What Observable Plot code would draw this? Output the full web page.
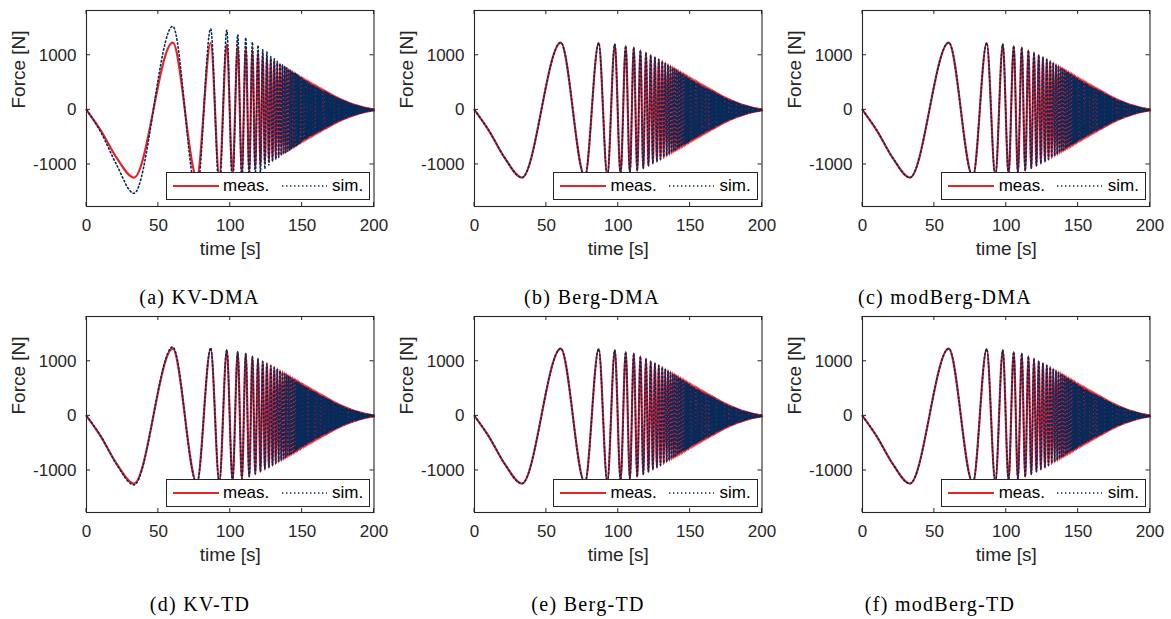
<!DOCTYPE html>
<html>
<head>
<meta charset="utf-8">
<script src="https://cdn.jsdelivr.net/npm/d3@7"></script>
<script src="https://cdn.jsdelivr.net/npm/@observablehq/plot@0.6"></script>
<style>
  html, body { margin: 0; padding: 0; background: #fff; }
  body { width: 1171px; height: 619px; position: relative; overflow: hidden;
         font-family: "Liberation Sans", Arial, sans-serif; color: #262626; }
  .panel { position: absolute; }
  .panel svg { overflow: visible; }
  .legend { position: absolute; box-sizing: border-box; background: #fff;
            border: 1.2px solid #262626; width: 204.5px; height: 28px; }
  .legend .lab { position: absolute; top: 50%; transform: translateY(-52%);
                 font-size: 17px; line-height: 1; color: #000; white-space: nowrap; }
  .legend svg { position: absolute; top: 0; }
  .caption { position: absolute; transform: translate(-50%, -50%);
             font-family: "Liberation Serif", "DejaVu Serif", serif; font-size: 20px;
             letter-spacing: 1.3px; color: #000; white-space: nowrap; }
</style>
</head>
<body>
<script>
// ---------------- data ----------------
const panelCaptions = ["(a) KV-DMA", "(b) Berg-DMA", "(c) modBerg-DMA",
                       "(d) KV-TD", "(e) Berg-TD", "(f) modBerg-TD"];
const seriesNames = ["meas.", "sim."];
const xTicks = [0, 50, 100, 150, 200];
const yTicks = [-1000, 0, 1000];

// first, slowly growing part before the first trough: time [s] and force [N]
const startTime = [0, 10, 21];
const startMeas = [0, -380, -880];
const startSimKVDMA = [0, -410, -1010];
const startSimKVTD = [0, -370, -890];
const startSimBerg = [0, -378, -878];

// times [s] of the successive extrema (trough, peak, trough, ...)
const extremaTime = [
  33.0, 60.0, 76.8, 86.4, 92.4, 97.6, 101.6, 105.2, 108.1, 110.8,
  113.2, 115.4, 117.4, 119.3, 121.0, 122.6, 124.1, 125.5, 126.9, 128.2,
  129.4, 130.6,
  131.7, 132.7, 133.7, 134.6, 135.5, 136.3, 137.1, 137.9, 138.6, 139.3,
  140.0, 140.7, 141.4, 142.0, 142.6, 143.2, 143.8, 144.4, 144.9, 145.4,
  145.9, 146.4, 146.9, 147.4, 147.9, 148.4, 148.9, 149.4, 149.9, 150.4,
  150.8, 151.2, 151.6, 152.0, 152.4, 152.8, 153.2, 153.6, 154.0,
  154.4, 154.8, 155.2, 155.6, 156.0, 156.4, 156.8, 157.2, 157.6, 158.0,
  158.4, 158.8, 159.2, 159.6, 160.0, 160.4, 160.8, 161.2, 161.6, 162.0,
  162.4, 162.8, 163.2, 163.6, 164.0, 164.4, 164.8, 165.2, 165.6, 166.0,
  166.3, 166.6, 166.9, 167.2, 167.5, 167.8, 168.1, 168.4, 168.7, 169.0,
  169.3, 169.6, 169.9, 170.2, 170.5, 170.8, 171.1, 171.4, 171.7, 172.0,
  172.3, 172.6, 172.9, 173.2, 173.5, 173.8, 174.1, 174.4, 174.7, 175.0,
  175.3, 175.6, 175.9, 176.2, 176.5, 176.8, 177.1, 177.4, 177.7, 178.0,
  178.3, 178.6, 178.9, 179.2, 179.5, 179.8, 180.1, 180.4, 180.7, 181.0,
  181.3, 181.6, 181.9, 182.2, 182.5, 182.8, 183.1, 183.4, 183.7, 184.0,
  184.25, 184.5, 184.75, 185.0, 185.25, 185.5, 185.75, 186.0,
  186.25, 186.5, 186.75, 187.0, 187.25, 187.5, 187.75, 188.0,
  188.25, 188.5, 188.75, 189.0, 189.25, 189.5, 189.75, 190.0,
  190.25, 190.5, 190.75, 191.0, 191.25, 191.5, 191.75, 192.0,
  192.25, 192.5, 192.75, 193.0, 193.25, 193.5, 193.75, 194.0,
  194.25, 194.5, 194.75, 195.0, 195.25, 195.5, 195.75, 196.0,
  196.25, 196.5, 196.75, 197.0, 197.25, 197.5, 197.75, 198.0,
  198.25, 198.5, 198.75, 199.0, 199.25, 199.5, 199.75, 200.0];

// measured force amplitude [N] at each extremum (same measurement in all panels)
const measPeaks = [
  1240, 1230, 1225, 1225, 1210, 1200, 1185, 1170, 1155, 1140,
  1115, 1090, 1070, 1050, 1025, 1005, 985, 965, 950, 930,
  915, 900,
  885, 870, 855, 842, 830, 818, 806, 795, 785, 775,
  762, 752, 741, 731, 721, 711, 702, 692, 684, 675,
  667, 658, 650, 642, 634, 625, 617, 608, 600, 592,
  586, 580, 574, 568, 562, 556, 550, 544, 538,
  532, 526, 520, 513, 507, 501, 495, 489, 483, 477,
  470, 464, 458, 452, 446, 440, 434, 428, 421, 415,
  409, 403, 397, 391, 385, 379, 373, 367, 361, 355,
  350, 345, 340, 335, 330, 325, 320, 316, 311, 307,
  302, 298, 293, 289, 285, 280, 276, 272, 267, 263,
  259, 255, 251, 247, 243, 239, 235, 231, 227, 223,
  219, 215, 211, 207, 203, 200, 196, 192, 189, 185,
  182, 178, 175, 171, 168, 164, 161, 158, 154, 151,
  148, 145, 141, 138, 135, 132, 129, 126, 123, 120,
  117, 115, 112, 110, 107, 105, 102, 100,
  98, 95, 93, 91, 89, 86, 84, 82,
  80, 78, 76, 74, 72, 70, 68, 66,
  64, 62, 60, 58, 57, 55, 53, 51,
  49, 48, 46, 44, 43, 41, 40, 38,
  37, 35, 34, 33, 31, 30, 28, 27,
  26, 24, 23, 22, 21, 20, 18, 17,
  16, 15, 14, 13, 12, 11, 10, 9];

// simulated amplitude [N] at each extremum
const simEarlyKVDMA = [           // 33 .. 154 s
  1528, 1530, 1510, 1486, 1470, 1457, 1420, 1376, 1350, 1321,
  1280, 1242, 1210, 1182, 1140, 1100, 1080, 1059, 1010, 975,
  950, 936,
  910, 890, 870, 852, 838, 822, 808, 795, 783, 772,
  758, 747, 735, 724, 713, 702, 692, 682, 673, 664,
  653, 642, 632, 622, 612, 601, 592, 582, 572, 563,
  556, 549, 542, 535, 528, 521, 514, 507, 500];
const simEarlyKVTD = [            // 33 .. 130.6 s
  1264, 1262, 1240, 1245, 1215, 1205, 1188, 1170, 1152, 1136,
  1108, 1082, 1060, 1038, 1012, 992, 970, 950, 934, 914,
  898, 882];
const simEarlyBerg = [            // 33 .. 130.6 s
  1240, 1230, 1225, 1225, 1210, 1200, 1185, 1170, 1155, 1140,
  1112, 1086, 1066, 1045, 1020, 998, 978, 957, 941, 921,
  905, 889];
const simMid = [                  // 131.7 .. 154 s (KV-TD and Berg models)
  863, 847, 831, 817, 804, 791, 778, 767, 756, 745,
  732, 721, 709, 699, 688, 677, 668, 657, 648, 639,
  630, 621, 612, 604, 595, 586, 578, 569, 560, 552,
  546, 540, 533, 527, 520, 514, 507, 501, 495];
const simLate = [                 // 154.4 .. 200 s (all models)
  489, 484, 478, 472, 466, 461, 455, 450, 444, 439,
  432, 427, 421, 416, 410, 405, 399, 394, 387, 382,
  376, 371, 365, 360, 354, 349, 343, 338, 332, 327,
  322, 317, 313, 308, 304, 299, 294, 291, 286, 282,
  278, 274, 270, 266, 262, 258, 254, 250, 246, 242,
  238, 235, 231, 227, 224, 220, 216, 213, 209, 205,
  201, 198, 194, 190, 187, 184, 180, 177, 174, 170,
  167, 164, 161, 157, 155, 151, 148, 145, 142, 139,
  136, 133, 130, 127, 124, 121, 119, 116, 113, 110,
  108, 106, 103, 101, 98, 97, 94, 92,
  90, 87, 86, 84, 82, 79, 77, 75,
  74, 72, 70, 68, 66, 64, 63, 61,
  59, 57, 55, 53, 52, 51, 49, 47,
  45, 44, 42, 40, 40, 38, 37, 35,
  34, 32, 31, 30, 29, 28, 26, 25,
  24, 22, 21, 20, 19, 18, 17, 16,
  15, 14, 13, 12, 11, 10, 9, 8];

// ---------------- layout / style ----------------
const RED = "#e8222a", NAVY = "#062a5a", AX = "#262626";
const frameLeft = [86, 473.5, 861.7];
const frameTop = [9.5, 316];
const FW = 287.5, FH = 196;
const ML = 80, MR = 12, MT = 6, MB = 62;
const captionX = [[199.5, 592, 945], [200, 588, 940]];
const captionY = [297, 604];

const simStart = [startSimKVDMA, startSimBerg, startSimBerg, startSimKVTD, startSimBerg, startSimBerg];
const simPeaks = [
  [...simEarlyKVDMA, ...simLate],
  [...simEarlyBerg, ...simMid, ...simLate],
  [...simEarlyBerg, ...simMid, ...simLate],
  [...simEarlyKVTD, ...simMid, ...simLate],
  [...simEarlyBerg, ...simMid, ...simLate],
  [...simEarlyBerg, ...simMid, ...simLate]];

function toSeries(start, amps) {
  // start segment (signed forces), then alternating troughs (even index) and peaks (odd index)
  return [
    ...startTime.map((t, i) => ({t, f: start[i]})),
    ...extremaTime.map((t, i) => ({t, f: (i % 2 === 0 ? -1 : 1) * amps[i]}))
  ];
}

function boxTicks(len) {
  return (index, scales, values, dims) => {
    const x0 = dims.marginLeft, x1 = dims.width - dims.marginRight;
    const y0 = dims.marginTop, y1 = dims.height - dims.marginBottom;
    const g = d3.create("svg:g").attr("stroke", AX).attr("stroke-width", 1).attr("fill", "none");
    for (const v of xTicks) {
      const x = scales.x(v);
      g.append("line").attr("x1", x).attr("x2", x).attr("y1", y1).attr("y2", y1 - len);
      g.append("line").attr("x1", x).attr("x2", x).attr("y1", y0).attr("y2", y0 + len);
    }
    for (const v of yTicks) {
      const y = scales.y(v);
      g.append("line").attr("x1", x0).attr("x2", x0 + len).attr("y1", y).attr("y2", y);
      g.append("line").attr("x1", x1).attr("x2", x1 - len).attr("y1", y).attr("y2", y);
    }
    return g.node();
  };
}

const meas = toSeries(startMeas, measPeaks);

panelCaptions.forEach((cap, p) => {
  const row = Math.floor(p / 3), col = p % 3;
  const sim = toSeries(simStart[p], simPeaks[p]);

  const chart = Plot.plot({
    width: ML + FW + MR,
    height: MT + FH + MB,
    marginLeft: ML, marginRight: MR, marginTop: MT, marginBottom: MB,
    style: {fontFamily: "'Liberation Sans', Arial, sans-serif", fontSize: "17px",
            color: AX, background: "transparent", overflow: "visible"},
    x: {domain: [0, 200]},
    y: {domain: [-1770, 1820]},
    marks: [
      Plot.line(meas, {x: "t", y: "f", stroke: RED, strokeWidth: 2.2, curve: "monotone-x"}),
      Plot.line(sim, {x: "t", y: "f", stroke: NAVY, strokeWidth: 1.6,
                      strokeDasharray: "1.4 2.6", curve: "monotone-x"}),
      Plot.frame({stroke: AX, strokeWidth: 1.1}),
      boxTicks(4),
      Plot.axisX(xTicks, {tickSize: 0, tickPadding: 12, label: null, fontSize: 17,
                          tickFormat: d => String(d)}),
      Plot.axisY(yTicks, {tickSize: 0, tickPadding: 10, label: null, fontSize: 17,
                          tickFormat: d => String(d)}),
      Plot.text(["time [s]"], {frameAnchor: "bottom", dy: 48, fontSize: 19, fill: AX}),
      Plot.text(["Force [N]"], {frameAnchor: "left", dx: -68, rotate: -90, fontSize: 19, fill: AX})
    ]
  });

  const div = document.createElement("div");
  div.className = "panel";
  div.style.left = (frameLeft[col] - ML) + "px";
  div.style.top = (frameTop[row] - MT) + "px";
  div.appendChild(chart);
  document.body.appendChild(div);

  // legend box (inside the axes, lower right)
  const lg = document.createElement("div");
  lg.className = "legend";
  lg.style.left = (frameLeft[col] + 79.5) + "px";
  lg.style.top = (frameTop[row] + 162.5) + "px";
  lg.innerHTML =
    `<svg width="60" height="26" style="left:5px"><line x1="1" x2="47" y1="13" y2="13" stroke="${RED}" stroke-width="2"/></svg>` +
    `<span class="lab" style="left:56.5px">${seriesNames[0]}</span>` +
    `<svg width="60" height="26" style="left:114px"><line x1="1" x2="46" y1="13" y2="13" stroke="${NAVY}" stroke-width="1.6" stroke-dasharray="1.4 2.6"/></svg>` +
    `<span class="lab" style="left:165.5px">${seriesNames[1]}</span>`;
  document.body.appendChild(lg);

  const c = document.createElement("div");
  c.className = "caption";
  c.style.left = captionX[row][col] + "px";
  c.style.top = captionY[row] + "px";
  c.textContent = cap;
  document.body.appendChild(c);
});
</script>
</body>
</html>
